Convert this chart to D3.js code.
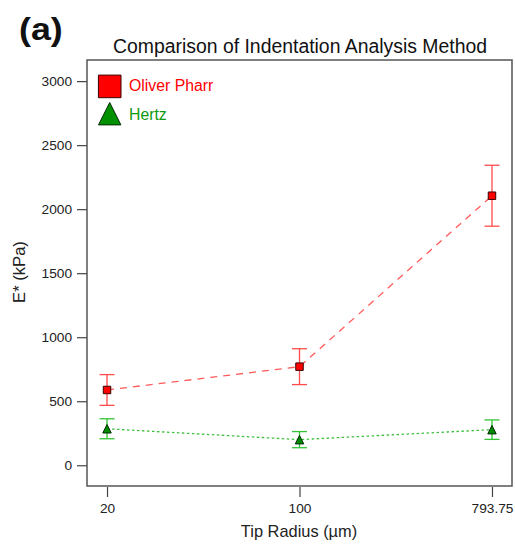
<!DOCTYPE html>
<html>
<head>
<meta charset="utf-8">
<script src="https://cdn.jsdelivr.net/npm/d3@7"></script>
<style>
  body { margin: 0; background: #fff; }
  text { font-family: Arial, "Liberation Sans", sans-serif; }
</style>
</head>
<body>
<svg id="chart" width="515" height="547"></svg>
<script>
// tip radius categories (um)
var radii = ["20", "100", "793.75"];

// Oliver Pharr, mean and error
var opMean = [588, 770, 2105];
var opErr = [120, 140, 238];

// Hertz, mean and error
var hzMean = [285, 200, 278];
var hzErr = [78, 63, 76];

var yTicks = [0, 500, 1000, 1500, 2000, 2500, 3000];

var svg = d3.select("#chart");

var margin = { top: 60, right: 3, bottom: 61, left: 87 },
    width = 515 - margin.left - margin.right,
    height = 547 - margin.top - margin.bottom;

var g = svg.append("g")
    .attr("transform", "translate(" + margin.left + "," + margin.top + ")");

var x = d3.scalePoint()
    .domain(radii)
    .range([0, width])
    .padding(0.104);

var y = d3.scaleLinear()
    .domain([-162, 3165])
    .range([height, 0]);

// triangle as wide as it is tall, like the original markers
var tallTriangle = {
    draw: function(context, size) {
        var s = Math.sqrt(size) / 2;
        context.moveTo(0, -s);
        context.lineTo(s, s);
        context.lineTo(-s, s);
        context.closePath();
    }
};

// axes
var yAxis = g.append("g")
    .call(d3.axisLeft(y).tickValues(yTicks).tickFormat(d3.format("d")).tickSize(10).tickPadding(5));
var xAxis = g.append("g")
    .attr("transform", "translate(0," + (height + 1) + ")")
    .call(d3.axisBottom(x).tickSize(10).tickPadding(6));

[yAxis, xAxis].forEach(function(a) {
    a.select(".domain").remove();
    a.selectAll(".tick line").attr("stroke", "#444").attr("stroke-width", 1.2);
    a.selectAll(".tick text").attr("fill", "#222").style("font-size", "13.7px");
});

// frame
g.append("rect")
    .attr("x", 0).attr("y", 0)
    .attr("width", width).attr("height", height)
    .attr("fill", "none")
    .attr("stroke", "#555")
    .attr("stroke-width", 1.5);

function series(means, errs, lineColor, dash, errColor, fill, stroke, shape, size) {
    var data = radii.map(function(r, i) { return { r: r, m: means[i], e: errs[i] }; });

    var line = d3.line()
        .x(function(d) { return x(d.r); })
        .y(function(d) { return y(d.m); });

    g.append("path")
        .datum(data)
        .attr("d", line)
        .attr("fill", "none")
        .attr("stroke", lineColor)
        .attr("stroke-width", 1.3)
        .attr("stroke-dasharray", dash);

    var eb = g.append("g").selectAll("g")
        .data(data)
        .enter()
        .append("g")
        .attr("stroke", errColor)
        .attr("stroke-width", 1.3);
    eb.append("line")
        .attr("x1", function(d) { return x(d.r); })
        .attr("x2", function(d) { return x(d.r); })
        .attr("y1", function(d) { return y(d.m + d.e); })
        .attr("y2", function(d) { return y(d.m - d.e); });
    eb.append("line")
        .attr("x1", function(d) { return x(d.r) - 7.5; })
        .attr("x2", function(d) { return x(d.r) + 7.5; })
        .attr("y1", function(d) { return y(d.m + d.e); })
        .attr("y2", function(d) { return y(d.m + d.e); });
    eb.append("line")
        .attr("x1", function(d) { return x(d.r) - 7.5; })
        .attr("x2", function(d) { return x(d.r) + 7.5; })
        .attr("y1", function(d) { return y(d.m - d.e); })
        .attr("y2", function(d) { return y(d.m - d.e); });

    g.append("g").selectAll("path")
        .data(data)
        .enter()
        .append("path")
        .attr("d", d3.symbol().type(shape).size(size))
        .attr("transform", function(d) { return "translate(" + x(d.r) + "," + y(d.m) + ")"; })
        .attr("fill", fill)
        .attr("stroke", stroke)
        .attr("stroke-width", 1);
}

series(opMean, opErr, "#ff5a5a", "7,6", "#ff4b4b", "#ff0000", "#3a0000", d3.symbolSquare, 56);
series(hzMean, hzErr, "#3cc03c", "2.5,2.5", "#33c433", "#008a00", "#002a00", tallTriangle, 72);

// legend
var leg = svg.append("g");
leg.append("path")
    .attr("d", d3.symbol().type(d3.symbolSquare).size(510))
    .attr("transform", "translate(109.7,86.4)")
    .attr("fill", "#ff0000").attr("stroke", "#3a0000").attr("stroke-width", 1);
leg.append("text")
    .attr("x", 129).attr("y", 91)
    .attr("fill", "#ff0000")
    .style("font-size", "15.8px")
    .text("Oliver Pharr");
leg.append("path")
    .attr("d", d3.symbol().type(tallTriangle).size(500))
    .attr("transform", "translate(109.7,113.7)")
    .attr("fill", "#009000").attr("stroke", "#002a00").attr("stroke-width", 1);
leg.append("text")
    .attr("x", 129).attr("y", 119.5)
    .attr("fill", "#119911")
    .style("font-size", "15.8px")
    .text("Hertz");

// title and labels
svg.append("text")
    .attr("x", 300).attr("y", 53)
    .attr("text-anchor", "middle")
    .attr("fill", "#111")
    .style("font-size", "19.4px")
    .text("Comparison of Indentation Analysis Method");

svg.append("text")
    .attr("transform", "translate(19,40) scale(1.12,1)")
    .attr("fill", "#111")
    .style("font-size", "32px")
    .style("font-weight", "bold")
    .text("(a)");

svg.append("text")
    .attr("transform", "translate(24.5,272) rotate(-90)")
    .attr("text-anchor", "middle")
    .attr("fill", "#222")
    .style("font-size", "16.6px")
    .text("E* (kPa)");

svg.append("text")
    .attr("x", 299).attr("y", 537)
    .attr("text-anchor", "middle")
    .attr("fill", "#222")
    .style("font-size", "16.4px")
    .text("Tip Radius (µm)");
</script>
</body>
</html>
